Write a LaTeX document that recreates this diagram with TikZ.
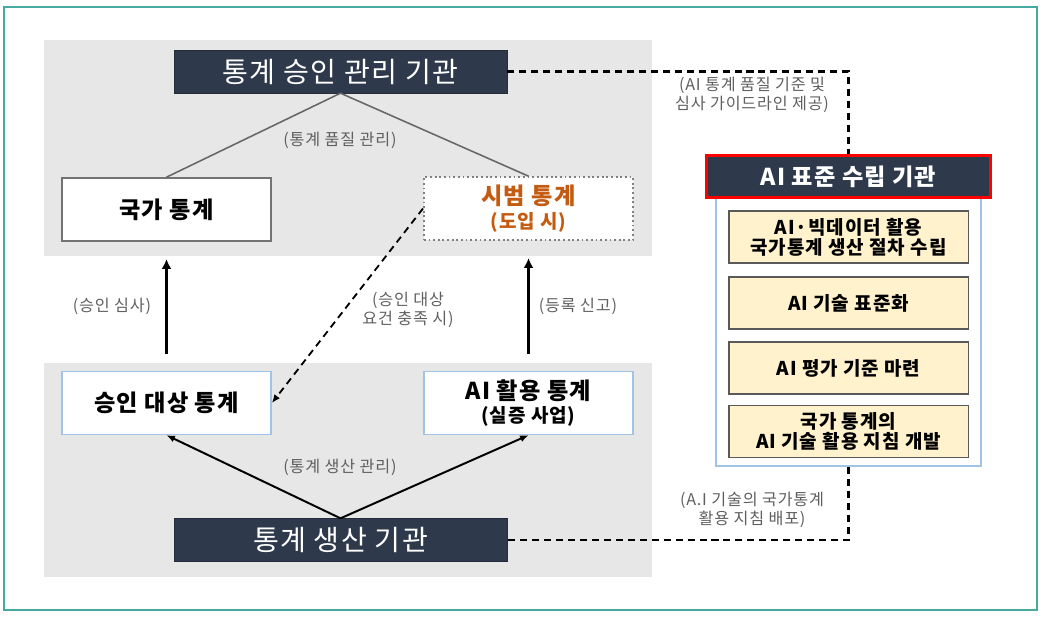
\documentclass[tikz,border=0pt]{standalone}
\usepackage{fontspec}
\setmainfont{Noto Sans CJK KR}[LetterSpace=5]
\usetikzlibrary{arrows.meta}

\definecolor{navy}{RGB}{46,58,76}
\definecolor{panelgray}{RGB}{231,231,231}
\definecolor{notegray}{RGB}{95,95,95}
\definecolor{pilotorange}{RGB}{197,90,17}
\definecolor{lightblue}{RGB}{160,195,230}
\definecolor{paleyellow}{RGB}{255,242,204}
\definecolor{frameteal}{RGB}{70,170,160}

\tikzset{
  darkbox/.style={fill=navy, draw=navy!80!black, text=white, minimum width=8.33cm, minimum height=1.07cm, font=\fontsize{20}{22}\selectfont},
  statbox/.style={fill=white, minimum width=5.23cm, minimum height=1.57cm, align=center, font=\bfseries\fontsize{16.5}{19}\selectfont},
  stdtask/.style={fill=paleyellow, draw=black!65, line width=0.9pt, minimum width=5.98cm, minimum height=1.3cm, align=center, font=\bfseries\fontsize{13.5}{16}\selectfont},
  note/.style={text=notegray, align=center, font=\fontsize{11.5}{13.5}\selectfont},
  bigup/.style={-{Latex[length=7pt,width=7pt]}, line width=2.8pt, shorten <=0.43cm, shorten >=0.43cm},
  prodarrow/.style={-{Latex[length=6pt,width=5pt]}, line width=1.4pt},
  guide/.style={dashed, dash pattern=on 5pt off 3.5pt, line width=1.7pt}
}

\begin{document}
\begin{tikzpicture}[x=0.025cm, y=-0.025cm]
  \useasboundingbox (0,0) rectangle (1043,617);
  \draw[frameteal, line width=0.8pt] (4,7) rectangle (1037,610);

  % gray panels
  \fill[panelgray] (44,40) rectangle (652,256);
  \fill[panelgray] (44,363) rectangle (652,577);

  % approval side
  \node[darkbox] (approval) at (340.5,71.5) {통계 승인 관리 기관};
  \node[statbox, draw=black!55, line width=1.3pt] (national) at (166.5,209.5) {국가 통계};
  \node[statbox, draw=black!50, dotted, line width=1.3pt, text=pilotorange] (pilot) at (528.5,208.5) {시범 통계\\[-2pt]{\fontsize{13.5}{15}\selectfont (도입 시)}};
  \draw[black!60, line width=1.1pt] (approval.south) -- (national.north);
  \draw[black!60, line width=1.1pt] (approval.south) -- (pilot.north);
  \node[note] (qualnote) at (340,140) {(통계 품질 관리)};

  % production side
  \node[darkbox] (producer) at (340.5,540) {통계 생산 기관};
  \node[statbox, draw=lightblue, line width=1.1pt] (target) at (166.5,403) {승인 대상 통계};
  \node[statbox, draw=lightblue, line width=1.1pt] (aiuse) at (528.5,403) {AI 활용 통계\\[-3pt]{\fontsize{13.5}{15}\selectfont (실증 사업)}};
  \draw[prodarrow] (producer.north) -- (target.south);
  \draw[prodarrow] (producer.north) -- (aiuse.south);
  \node[note] (prodnote) at (340,467) {(통계 생산 관리)};

  % between the panels
  \draw[bigup] (target.north) -- (national.south);
  \draw[bigup] (aiuse.north) -- (pilot.south);
  \node[note] (reviewnote) at (112,306) {(승인 심사)};
  \node[note] (registernote) at (578,306) {(등록 신고)};
  \draw[-{Latex[length=6pt,width=5pt]}, dashed, dash pattern=on 5pt off 3.5pt, line width=1.3pt] (pilot.west) -- (target.east);
  \node[note] (meetnote) at (408,310) {(승인 대상\\요건 충족 시)};

  % AI standard body
  \node[draw=lightblue, line width=1.1pt, fill=white, minimum width=6.63cm, minimum height=6.7cm] (stdpanel) at (848.5,332) {};
  \node[fill=navy, draw=red, line width=2.2pt, text=white, minimum width=7.08cm, minimum height=1.05cm, font=\bfseries\fontsize{16.5}{19}\selectfont] (stdbody) at (848.5,176.5) {AI 표준 수립 기관};
  \node[stdtask] (taskA) at (848.5,237) {AI·빅데이터 활용\\[-2pt]국가통계 생산 절차 수립};
  \node[stdtask] (taskB) at (848.5,303) {AI 기술 표준화};
  \node[stdtask] (taskC) at (848.5,368) {AI 평가 기준 마련};
  \node[stdtask] (taskD) at (848.5,431.5) {국가 통계의\\[-2pt]AI 기술 활용 지침 개발};

  % dashed links
  \draw[guide] (approval.east) -| (stdbody.north);
  \node[note] (guidenote) at (752,95) {(AI 통계 품질 기준 및\\심사 가이드라인 제공)};
  \draw[guide] (stdpanel.south) |- (producer.east);
  \node[note] (spreadnote) at (752,510) {(A.I 기술의 국가통계\\활용 지침 배포)};
\end{tikzpicture}
\end{document}
